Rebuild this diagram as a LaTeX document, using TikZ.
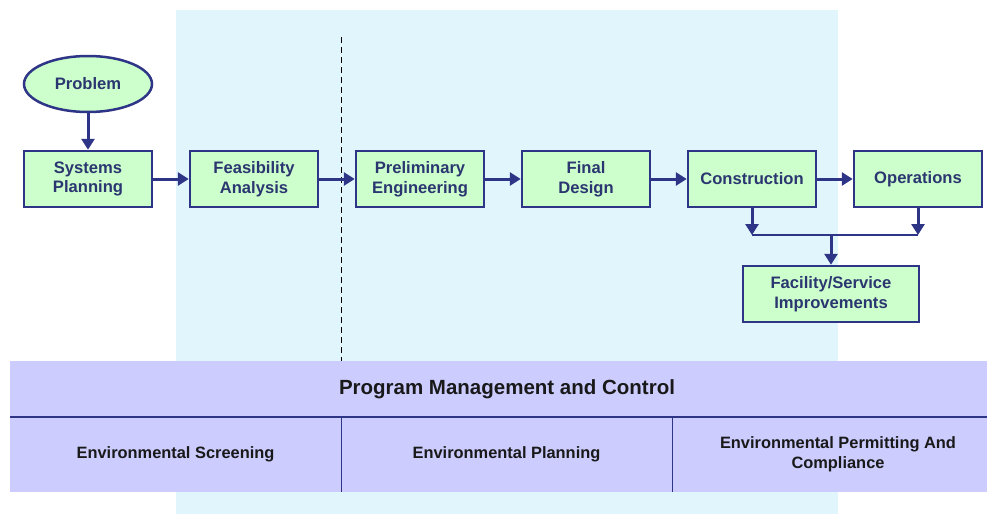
\documentclass[tikz,border=0pt]{standalone}
\usepackage{fontspec}
\setmainfont{Liberation Sans}
\usetikzlibrary{arrows.meta,shapes.geometric}

\definecolor{navy}{HTML}{2E3486}
\definecolor{boxtext}{HTML}{2B3670}
\definecolor{boxgreen}{HTML}{CCFFCC}
\definecolor{bgblue}{HTML}{E1F5FC}
\definecolor{bandblue}{HTML}{CCCCFF}

\tikzset{
  box/.style={draw=navy,line width=2.5pt,fill=boxgreen,minimum width=128pt,
    minimum height=56pt,align=center,text=boxtext,
    font=\fontsize{16.6}{19.5}\selectfont\bfseries},
  arr/.style={navy,line width=3pt,-{Triangle[length=11pt,width=13pt]}},
  cell/.style={fill=bandblue,inner sep=0pt,align=center,text=black!90,
    font=\fontsize{16.4}{20}\selectfont\bfseries}
}

\begin{document}
\begin{tikzpicture}[x=1pt,y=-1pt]
	\useasboundingbox (0,0) rectangle (987,514);
	% shaded phase column
	\fill[bgblue] (176,10) rectangle (838,514);
	\draw[dashed,line width=1pt,dash pattern=on 6pt off 4pt] (341,37) -- (341,361);

	% process chain
	\node[ellipse,box] (problem) at (88,84) {Problem};
	\node[box] (sysplan) at (88,179) {Systems\\Planning};
	\node[box] (feas) at (254,179) {Feasibility\\Analysis};
	\node[box] (prelim) at (420,179) {Preliminary\\Engineering};
	\node[box] (final) at (586,179) {Final\\Design};
	\node[box] (constr) at (752,179) {Construction};
	\node[box] (ops) at (918,179) {Operations};
	\node[box,minimum width=176pt] (improve) at (831,294) {Facility/Service\\Improvements};

	\draw[arr] (problem) -- (sysplan);
	\draw[arr] (sysplan) -- (feas);
	\draw[arr] (feas) -- (prelim);
	\draw[arr] (prelim) -- (final);
	\draw[arr] (final) -- (constr);
	\draw[arr] (constr) -- (ops);

	% feedback to improvements
	\coordinate (jl) at (constr.south |- 0,235);
	\coordinate (jr) at (ops.south |- 0,235);
	\coordinate (jm) at (improve.north |- 0,235);
	\draw[arr] (constr.south) -- (jl);
	\draw[arr] (ops.south) -- (jr);
	\draw[navy,line width=2.5pt] (jl) -- (jr);
	\draw[arr] (jm) -- (improve.north);

	% program management band (runs off the right edge)
	\node[cell,minimum width=994pt,minimum height=56pt,
		font=\fontsize{20.5}{24}\selectfont\bfseries] (pmc) at (507,389) {Program Management and Control};
	\node[cell,minimum width=331pt,minimum height=75pt] (screen) at (175.5,454.5) {Environmental Screening};
	\node[cell,minimum width=331pt,minimum height=75pt] (envplan) at (506.5,454.5) {Environmental Planning};
	\node[cell,minimum width=332pt,minimum height=75pt] (permit) at (838,454.5) {Environmental Permitting And\\Compliance};
	\draw[navy,line width=2pt] (pmc.south west) -- (pmc.south east);
	\draw[navy,line width=1pt] (screen.north east) -- (screen.south east);
	\draw[navy,line width=1pt] (envplan.north east) -- (envplan.south east);
\end{tikzpicture}
\end{document}
